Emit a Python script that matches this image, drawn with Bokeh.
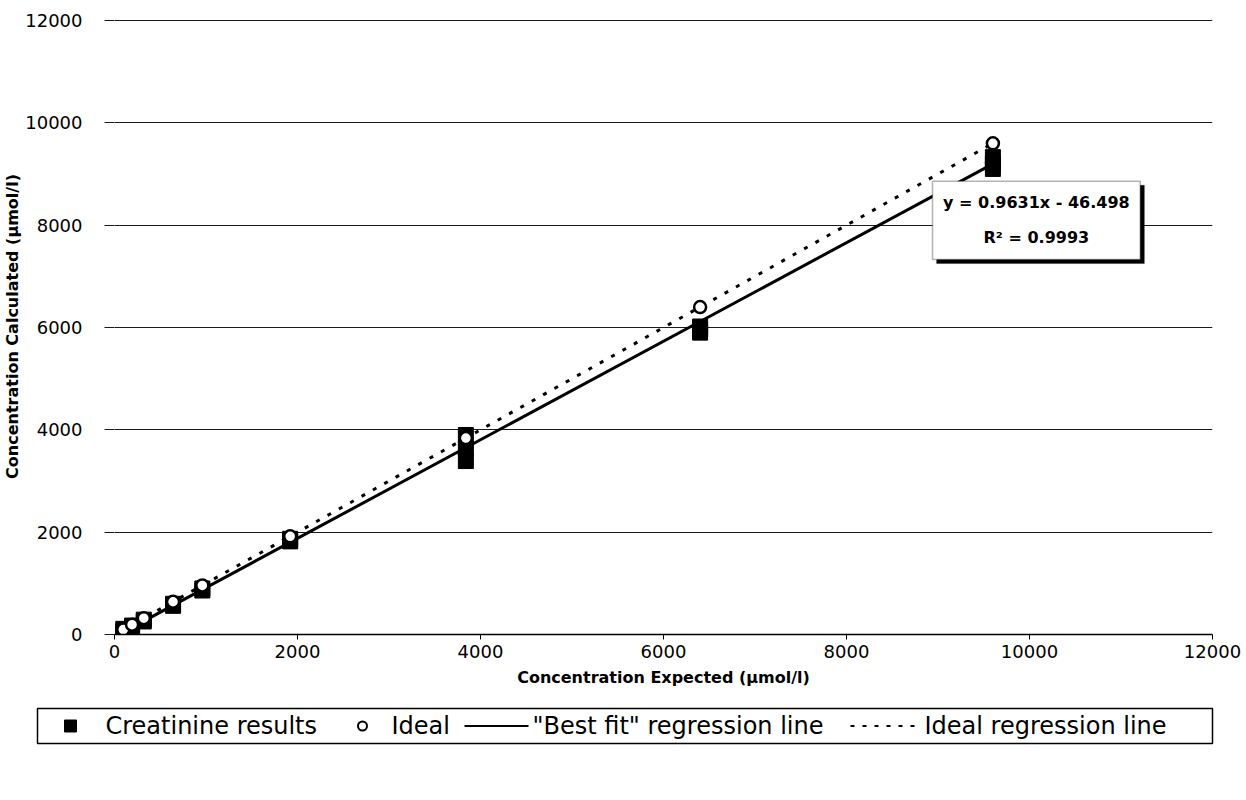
from bokeh.embed import file_html
from bokeh.layouts import column
from bokeh.models import BoxAnnotation, FixedTicker, Label, Range1d
from bokeh.plotting import figure
from bokeh.resources import INLINE

# ---- data -------------------------------------------------------------
# Creatinine results: replicate measurements at each expected level (µmol/l)
creat_expected = [96, 96, 192, 192, 320, 320, 640, 640, 960, 960,
                  1920, 1920, 3840, 3840, 3840, 6400, 6400, 6400,
                  9600, 9600, 9600]
creat_calculated = [70, 110, 150, 175, 255, 290, 560, 600, 860, 900,
                    1820, 1870, 3390, 3640, 3900, 5900, 5960, 6020,
                    9100, 9200, 9330]

# Ideal response: calculated equals expected
ideal_expected = [96, 192, 320, 640, 960, 1920, 3840, 6400, 9600]
ideal_calculated = [96, 192, 320, 640, 960, 1920, 3840, 6400, 9600]

# Regression lines (slope, intercept)
fit_slope, fit_intercept = 0.9631, -46.498
fit_r2 = 0.9993
ideal_slope, ideal_intercept = 1.0, 0.0

axis_ticks = [0, 2000, 4000, 6000, 8000, 10000, 12000]

FONT = "DejaVu Sans"

# ---- main chart ---------------------------------------------------------
p = figure(width=1246, height=700, output_backend="svg", toolbar_location=None,
           x_range=Range1d(0, 12000), y_range=Range1d(0, 12040),
           min_border_left=114, min_border_right=34, min_border_top=18,
           min_border_bottom=66)
p.frame_align = False
p.outline_line_color = None
p.background_fill_color = "white"
p.border_fill_color = "white"

p.xgrid.grid_line_color = None
p.ygrid.grid_line_color = "#1a1a1a"
p.ygrid.grid_line_width = 1.2

p.xaxis.ticker = FixedTicker(ticks=axis_ticks)
p.yaxis.ticker = FixedTicker(ticks=axis_ticks)
for ax in (p.xaxis, p.yaxis):
    ax.minor_tick_line_color = None
    ax.major_tick_in = 0
    ax.major_label_text_font = FONT
    ax.major_label_text_font_size = "18px"
    ax.major_label_text_color = "black"
    ax.axis_label_text_font = FONT
    ax.axis_label_text_font_style = "bold"
    ax.axis_label_text_font_size = "16px"
    ax.axis_label_text_color = "black"

p.xaxis.axis_line_color = "black"
p.xaxis.axis_line_width = 1.5
p.xaxis.major_tick_out = 5
p.xaxis.major_tick_line_color = "black"
p.xaxis.major_label_standoff = 5
p.xaxis.axis_label = "Concentration Expected (µmol/l)"
p.xaxis.axis_label_standoff = 7

p.yaxis.axis_line_color = None
p.yaxis.major_tick_out = 10
p.yaxis.major_tick_line_color = "#1a1a1a"
p.yaxis.major_label_standoff = 22
p.yaxis.axis_label = "Concentration Calculated (µmol/l)"
p.yaxis.axis_label_standoff = 0

# regression lines over the measured range
x0, x1 = min(creat_expected), max(creat_expected)
p.line([x0, x1], [ideal_slope * x0 + ideal_intercept, ideal_slope * x1 + ideal_intercept],
       line_color="black", line_width=3, line_dash="4 9")
p.line([x0, x1], [fit_slope * x0 + fit_intercept, fit_slope * x1 + fit_intercept],
       line_color="black", line_width=3)

p.scatter(creat_expected, creat_calculated, marker="square", size=15,
          fill_color="black", line_color="black")
p.scatter(ideal_expected, ideal_calculated, marker="circle", size=12,
          fill_color="white", line_color="black", line_width=2.5)

# equation box with drop shadow
box_l, box_r, box_b, box_t = 8940, 11210, 7330, 8860
p.add_layout(BoxAnnotation(left=box_l + 45, right=box_r + 45, bottom=box_b - 80,
                           top=box_t - 80, fill_color="black", fill_alpha=1,
                           line_color="black", level="overlay"))
p.add_layout(BoxAnnotation(left=box_l, right=box_r, bottom=box_b, top=box_t,
                           fill_color="white", fill_alpha=1, line_color="black",
                           line_width=1.5, level="overlay"))
eq_x = (box_l + box_r) / 2
p.add_layout(Label(x=eq_x, y=8450, text=f"y = {fit_slope}x - {abs(fit_intercept)}",
                   text_font=FONT, text_font_style="bold", text_font_size="16px",
                   text_color="black", text_align="center", text_baseline="middle",
                   level="overlay"))
p.add_layout(Label(x=eq_x, y=7760, text=f"R² = {fit_r2}",
                   text_font=FONT, text_font_style="bold", text_font_size="16px",
                   text_color="black", text_align="center", text_baseline="middle",
                   level="overlay"))

# ---- legend strip (coordinates in page pixels) --------------------------
lg = figure(width=1246, height=100, output_backend="svg", toolbar_location=None,
            x_range=Range1d(0, 1246), y_range=Range1d(0, 100),
            x_axis_type=None, y_axis_type=None, min_border=0)
lg.frame_align = False
lg.outline_line_color = None
lg.xgrid.visible = False
lg.ygrid.visible = False

ly = 74.5
lg.quad(left=[37], right=[1212], bottom=[57], top=[92], fill_color="white",
        line_color="black", line_width=1.5)
lg.scatter([70], [ly], marker="square", size=12, fill_color="black", line_color="black")
lg.scatter([362], [ly], marker="circle", size=9, fill_color="white",
           line_color="black", line_width=2)
lg.line([464, 528], [ly, ly], line_color="black", line_width=2)
lg.line([850, 915], [ly, ly], line_color="black", line_width=2, line_dash="4 8")

legend_labels = ["Creatinine results", "Ideal", "\"Best fit\" regression line",
                 "Ideal regression line"]
legend_label_x = [105, 391, 532, 924]
lg.text(x=legend_label_x, y=[ly] * 4, text=legend_labels, text_font_size="24px",
        text_baseline="middle", text_align="left", text_color="black",
        text_font={"value": FONT})

out = column(p, lg, spacing=0)
open("out.html", "w").write(file_html(out, INLINE))
